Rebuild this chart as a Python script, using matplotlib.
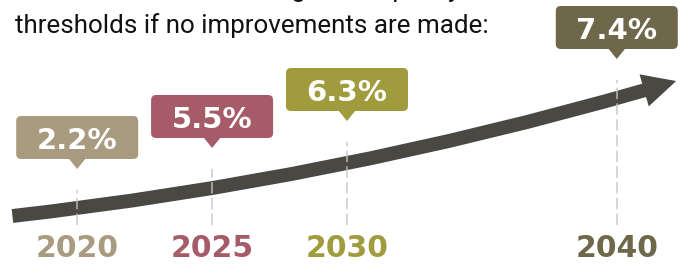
import matplotlib
matplotlib.use("Agg")
import matplotlib.pyplot as plt
from matplotlib.patches import FancyArrowPatch, FancyBboxPatch, Polygon, ArrowStyle
from matplotlib.transforms import Affine2D, ScaledTranslation

# data
years = [2020, 2025, 2030, 2040]
labels = ["2.2%", "5.5%", "6.3%", "7.4%"]
colors = ["#a89b80", "#a65c68", "#a09b3c", "#6f674a"]
# height of the (decorative) trend arrow at each year, arbitrary units
trend_level = [56, 77, 104, 166]
trend_start = (2017.6, 49)
trend_end = (2042.2, 184)

title_lines = ["Share of rivers exceeding water quality",
               "thresholds if no improvements are made:"]

W, H = 683, 265
fig = plt.figure(figsize=(W / 100, H / 100), dpi=100)
ax = fig.add_axes([0, 0, 1, 1])
ax.set_xlim(2017.139, 2042.454)
ax.set_ylim(0, H)
ax.axis("off")

title_font = ["Roboto", "DejaVu Sans"]
t1 = fig.text(15 / W, 1 + 3 / H, title_lines[0], fontsize=20, family=title_font,
              color="#111111", va="baseline")
t2 = fig.text(15 / W, 1 - 33 / H, title_lines[1], fontsize=20, family=title_font,
              color="#111111", va="baseline")
# second line spans ~473 px in the reference
renderer = fig.canvas.get_renderer()
w = t2.get_window_extent(renderer).width
for t in (t1, t2):
    t.set_fontsize(20 * 473 / w)

# trend arrow
style = ArrowStyle("Simple", head_length=24, head_width=24, tail_width=10)
arrow = FancyArrowPatch(trend_start, trend_end, arrowstyle=style,
                        connectionstyle="arc3,rad=0.044", mutation_scale=1,
                        color="#4a4843", lw=0, shrinkA=0, shrinkB=0, zorder=2)
ax.add_patch(arrow)


def pixel_trans(x, y):
    # origin at data point, units in pixels
    return Affine2D().scale(1 / fig.dpi) + fig.dpi_scale_trans + \
        ScaledTranslation(x, y, ax.transData)


for yr, lab, col, lev in zip(years, labels, colors, trend_level):
    # dashed guide
    ax.plot([yr, yr], [40, lev + 19], color="#c4c4c4", lw=1.1,
            ls=(0, (7.5, 2.8)), alpha=0.9, zorder=3)
    # year label
    ax.text(yr, 8, str(yr), color=col, fontsize=21.5, fontweight="bold",
            ha="center", va="baseline", zorder=4)
    # callout bubble
    t = pixel_trans(yr, lev + 40)
    ax.add_patch(FancyBboxPatch((-61, 10), 122, 43,
                                boxstyle="round,pad=0,rounding_size=5",
                                fc=col, ec="none", transform=t, zorder=4))
    ax.add_patch(Polygon([(-8.5, 10.5), (8.5, 10.5), (0, 0)], closed=True,
                         fc=col, ec="none", transform=t, zorder=4))
    ax.text(0, 20, lab, color="white", fontsize=21, fontweight="bold",
            ha="center", va="baseline", transform=t, zorder=5)

fig.savefig("out.png", dpi=100)
